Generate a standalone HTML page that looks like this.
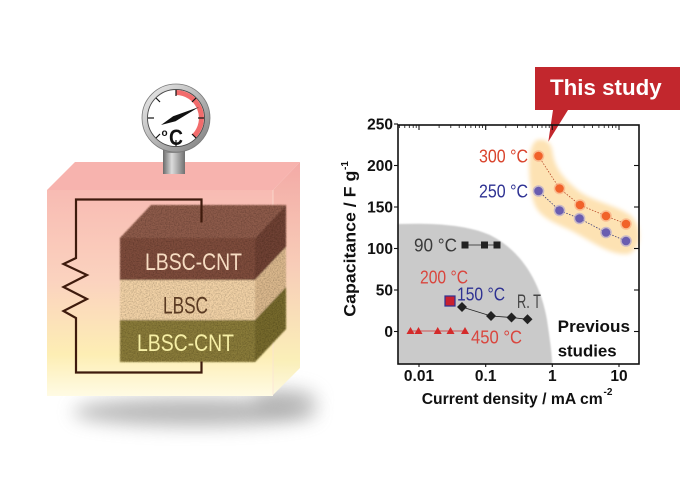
<!DOCTYPE html>
<html>
<head>
<meta charset="utf-8">
<style>
  html,body{margin:0;padding:0;background:#ffffff;}
  svg{display:block;}
</style>
</head>
<body>
<svg width="700" height="486" viewBox="0 0 700 486" xmlns="http://www.w3.org/2000/svg" font-family="'Liberation Sans', Arial, sans-serif">
<defs>
  <linearGradient id="front" x1="0" y1="0" x2="0" y2="1">
    <stop offset="0" stop-color="#f8bbb3"/>
    <stop offset="0.45" stop-color="#fbd3bf"/>
    <stop offset="0.8" stop-color="#fdeeb4"/>
    <stop offset="1" stop-color="#fffbe4"/>
  </linearGradient>
  <linearGradient id="side" x1="0" y1="0" x2="0" y2="1">
    <stop offset="0" stop-color="#f3aaa6"/>
    <stop offset="0.45" stop-color="#f8cdb8"/>
    <stop offset="0.85" stop-color="#faefb8"/>
    <stop offset="1" stop-color="#fdf8e0"/>
  </linearGradient>
  <linearGradient id="ring" x1="0" y1="0" x2="1" y2="1">
    <stop offset="0" stop-color="#f0f0f0"/>
    <stop offset="0.5" stop-color="#b8b8b8"/>
    <stop offset="1" stop-color="#7a7a7a"/>
  </linearGradient>
  <linearGradient id="stem" x1="0" y1="0" x2="1" y2="0">
    <stop offset="0" stop-color="#6a6a6a"/>
    <stop offset="0.4" stop-color="#dcdcdc"/>
    <stop offset="1" stop-color="#707070"/>
  </linearGradient>
  <filter id="blur1" x="-10%" y="-10%" width="120%" height="120%"><feGaussianBlur stdDeviation="0.9"/></filter>
  <filter id="blur2" x="-10%" y="-10%" width="120%" height="120%"><feGaussianBlur stdDeviation="2"/></filter>
  <filter id="shadow" x="-50%" y="-150%" width="200%" height="400%"><feGaussianBlur stdDeviation="9"/></filter>
  <filter id="grain" filterUnits="userSpaceOnUse" x="110" y="195" width="190" height="180">
    <feGaussianBlur in="SourceGraphic" stdDeviation="0.9" result="s"/>
    <feTurbulence type="fractalNoise" baseFrequency="0.75" numOctaves="2" seed="5" result="t"/>
    <feColorMatrix in="t" type="matrix" values="0 0 0 0 0  0 0 0 0 0  0 0 0 0 0  0.9 0 0 0 -0.32" result="a"/>
    <feComposite in="a" in2="s" operator="in" result="b"/>
    <feMerge><feMergeNode in="s"/><feMergeNode in="b"/></feMerge>
  </filter>
</defs>

<!-- ============ LEFT ILLUSTRATION ============ -->
<ellipse cx="195" cy="412" rx="122" ry="14" fill="#888" opacity="0.6" filter="url(#shadow)"/>
<ellipse cx="285" cy="400" rx="32" ry="11" fill="#888" opacity="0.5" filter="url(#shadow)"/>

<polygon points="47,190 273,190 300,162 75,162" fill="#f7b3ae"/>
<rect x="47" y="190" width="226" height="206" fill="url(#front)"/>
<polygon points="273,190 300,162 300,368 273,395" fill="url(#side)"/>
<line x1="273" y1="190" x2="273" y2="395" stroke="#fbe2d6" stroke-width="1" opacity="0.7"/>

<g filter="url(#grain)">
  <polygon points="120,238 255,238 286,205 151,205" fill="#8e5c4b"/>
  <rect x="120" y="238" width="135" height="42" fill="#7f4d3d"/>
  <polygon points="255,238 286,205 286,247 255,280" fill="#6f4335"/>
  <rect x="120" y="280" width="135" height="40" fill="#f3d3a7"/>
  <polygon points="255,280 286,247 286,287 255,320" fill="#dcb98e"/>
  <rect x="120" y="320" width="135" height="42" fill="#8a7c3a"/>
  <polygon points="255,320 286,287 286,329 255,362" fill="#776a2d"/>
</g>

<text x="145" y="270" font-size="24" fill="#f6dcc2" textLength="97" lengthAdjust="spacingAndGlyphs">LBSC-CNT</text>
<text x="163" y="313.5" font-size="24" fill="#5a3a22" textLength="45" lengthAdjust="spacingAndGlyphs">LBSC</text>
<text x="137" y="351" font-size="24" fill="#f6efa6" textLength="97" lengthAdjust="spacingAndGlyphs">LBSC-CNT</text>

<polyline points="201.5,222.5 201.5,199.5 76,199.5 76,258 63.5,264 87,275 63.5,287 87,299 63.5,311 76,318 76,372.5 201.5,372.5 201.5,361.5"
          fill="none" stroke="#3e1b0d" stroke-width="2.2" stroke-linejoin="miter"/>

<!-- gauge -->
<rect x="163" y="148" width="22" height="26" fill="url(#stem)"/>
<rect x="166" y="148" width="16" height="5" fill="#8a8a8a"/>
<circle cx="176" cy="118" r="34" fill="url(#ring)" stroke="#7a7a7a" stroke-width="0.8"/>
<circle cx="176" cy="118" r="28.5" fill="#ffffff" stroke="#4a4a4a" stroke-width="0.9"/>
<path d="M176,92.5 A25.5,25.5 0 0 1 194,136" fill="none" stroke="#f26c6c" stroke-width="5"/>
<g stroke="#111" stroke-width="1.2">
  <line x1="176" y1="90" x2="176" y2="96"/>
  <line x1="196" y1="98" x2="192" y2="102"/>
  <line x1="204" y1="118" x2="198" y2="118"/>
  <line x1="196" y1="138" x2="192" y2="134"/>
  <line x1="176" y1="146" x2="176" y2="140"/>
  <line x1="156" y1="138" x2="160" y2="134"/>
  <line x1="148" y1="118" x2="154" y2="118"/>
  <line x1="156" y1="98" x2="160" y2="102"/>
</g>
<polygon points="161,125 173.1,116.2 199,107 175.5,121.2" fill="#111"/>
<text x="161.5" y="136" font-size="10" font-weight="bold" fill="#111">o</text>
<text x="169" y="145" font-size="22" font-weight="bold" fill="#111" textLength="14" lengthAdjust="spacingAndGlyphs">C</text>

<!-- ============ CHART ============ -->
<path d="M398,364 L398,224 C430,223 465,224 490,235 C520,250 540,280 547,320 C550,340 552,355 552,364 Z" fill="#cacaca" filter="url(#blur1)"/>

<path d="M537,140 C548,138 552,145 553,155 C556,170 565,180 580,192 C595,202 615,205 630,215 C643,226 642,250 628,254 C610,256 590,240 570,230 C548,220 535,215 532,195 C528,175 527,146 537,140 Z"
      fill="#fde2b3" filter="url(#blur2)"/>

<path d="M535,67 L680,67 L680,110 L568,110 L548.3,141.7 L553,110 L535,110 Z" fill="#c2272d"/>
<text x="550" y="95" font-size="22" font-weight="bold" fill="#ffffff" textLength="111.7" lengthAdjust="spacingAndGlyphs">This study</text>

<polyline points="538.5,156 559.5,188.5 580,205 606,216 626,224" fill="none" stroke="#b84a2a" stroke-width="0.8" stroke-dasharray="1.5 1.5"/>
<polyline points="538.5,191 559.5,210.5 579.5,218.5 606,232.5 626,241" fill="none" stroke="#3d3d7a" stroke-width="0.8" stroke-dasharray="1.5 1.5"/>
<g fill="#f9a57c" opacity="0.6">
  <circle cx="538.5" cy="156" r="5.8"/><circle cx="559.5" cy="188.5" r="5.8"/><circle cx="580" cy="205" r="5.8"/><circle cx="606" cy="216" r="5.8"/><circle cx="626" cy="224" r="5.8"/>
</g>
<g fill="#f1622a">
  <circle cx="538.5" cy="156" r="4.3"/><circle cx="559.5" cy="188.5" r="4.3"/><circle cx="580" cy="205" r="4.3"/><circle cx="606" cy="216" r="4.3"/><circle cx="626" cy="224" r="4.3"/>
</g>
<g fill="#a79fd3" opacity="0.6">
  <circle cx="538.5" cy="191" r="5.8"/><circle cx="559.5" cy="210.5" r="5.8"/><circle cx="579.5" cy="218.5" r="5.8"/><circle cx="606" cy="232.5" r="5.8"/><circle cx="626" cy="241" r="5.8"/>
</g>
<g fill="#6a5db0">
  <circle cx="538.5" cy="191" r="4.3"/><circle cx="559.5" cy="210.5" r="4.3"/><circle cx="579.5" cy="218.5" r="4.3"/><circle cx="606" cy="232.5" r="4.3"/><circle cx="626" cy="241" r="4.3"/>
</g>
<text x="479" y="162.5" font-size="18" fill="#d9432c" textLength="49" lengthAdjust="spacingAndGlyphs">300 °C</text>
<text x="479" y="197.5" font-size="18" fill="#2e3192" textLength="49" lengthAdjust="spacingAndGlyphs">250 °C</text>

<line x1="465" y1="245" x2="497" y2="245" stroke="#222" stroke-width="0.8"/>
<g fill="#222">
  <rect x="461.5" y="241.5" width="7" height="7"/><rect x="481" y="241.5" width="7" height="7"/><rect x="493.5" y="241.5" width="7" height="7"/>
</g>
<text x="414" y="251.5" font-size="18" fill="#3a3a3a" textLength="43" lengthAdjust="spacingAndGlyphs">90 °C</text>

<text x="420" y="283.5" font-size="18" fill="#d9463e" textLength="48" lengthAdjust="spacingAndGlyphs">200 °C</text>
<rect x="445" y="296" width="10" height="10" fill="#c8202f" stroke="#2e3192" stroke-width="1.2"/>
<text x="457" y="300.5" font-size="18" fill="#2e3192" textLength="48" lengthAdjust="spacingAndGlyphs">150 °C</text>
<text x="517" y="308" font-size="19" fill="#444444" textLength="24" lengthAdjust="spacingAndGlyphs">R. T</text>

<polyline points="462,307 491,316 511.5,317.5 527.5,319.3" fill="none" stroke="#222" stroke-width="0.8"/>
<g fill="#222">
  <polygon points="462,302 467,307 462,312 457,307"/>
  <polygon points="491,311 496,316 491,321 486,316"/>
  <polygon points="511.5,312.5 516.5,317.5 511.5,322.5 506.5,317.5"/>
  <polygon points="527.5,314.3 532.5,319.3 527.5,324.3 522.5,319.3"/>
</g>

<line x1="410.5" y1="331" x2="465" y2="331" stroke="#d42a2a" stroke-width="0.8"/>
<g fill="#d42a2a">
  <polygon points="410.5,327 414.5,334 406.5,334"/>
  <polygon points="418.5,327 422.5,334 414.5,334"/>
  <polygon points="437.7,327 441.7,334 433.7,334"/>
  <polygon points="450.5,327 454.5,334 446.5,334"/>
  <polygon points="465,327 469,334 461,334"/>
</g>
<text x="471" y="343.5" font-size="18" fill="#d9463e" textLength="51" lengthAdjust="spacingAndGlyphs">450 °C</text>

<text x="557.7" y="332" font-size="17" font-weight="bold" fill="#111" textLength="72.3" lengthAdjust="spacingAndGlyphs">Previous</text>
<text x="557.7" y="356.5" font-size="17" font-weight="bold" fill="#111" textLength="59" lengthAdjust="spacingAndGlyphs">studies</text>

<rect x="398" y="125" width="241" height="239" fill="none" stroke="#111" stroke-width="1.6"/>

<g stroke="#111" stroke-width="1.1">
  <line x1="394" y1="124" x2="398" y2="124"/>
  <line x1="394" y1="165.5" x2="398" y2="165.5"/>
  <line x1="394" y1="207" x2="398" y2="207"/>
  <line x1="394" y1="248.5" x2="398" y2="248.5"/>
  <line x1="394" y1="290" x2="398" y2="290"/>
  <line x1="394" y1="331.5" x2="398" y2="331.5"/>
  <line x1="634" y1="165.5" x2="639" y2="165.5"/>
  <line x1="634" y1="207" x2="639" y2="207"/>
  <line x1="634" y1="248.5" x2="639" y2="248.5"/>
  <line x1="634" y1="290" x2="639" y2="290"/>
  <line x1="634" y1="331.5" x2="639" y2="331.5"/>
  <line x1="419" y1="364" x2="419" y2="367"/>
  <line x1="485.7" y1="364" x2="485.7" y2="367"/>
  <line x1="552.3" y1="364" x2="552.3" y2="367"/>
  <line x1="619" y1="364" x2="619" y2="367"/>
  <line x1="419" y1="125" x2="419" y2="130"/>
  <line x1="485.7" y1="125" x2="485.7" y2="130"/>
  <line x1="552.3" y1="125" x2="552.3" y2="130"/>
  <line x1="619" y1="125" x2="619" y2="130"/>
</g>
<g stroke="#111" stroke-width="0.8">
  <line x1="399.5" y1="125" x2="399.5" y2="128"/>
  <line x1="404.8" y1="125" x2="404.8" y2="128"/>
  <line x1="409.3" y1="125" x2="409.3" y2="128"/>
  <line x1="413.2" y1="125" x2="413.2" y2="128"/>
  <line x1="416.2" y1="125" x2="416.2" y2="128"/>
  <line x1="439.1" y1="125" x2="439.1" y2="128"/>
  <line x1="450.8" y1="125" x2="450.8" y2="128"/>
  <line x1="459.2" y1="125" x2="459.2" y2="128"/>
  <line x1="465.6" y1="125" x2="465.6" y2="128"/>
  <line x1="470.9" y1="125" x2="470.9" y2="128"/>
  <line x1="475.4" y1="125" x2="475.4" y2="128"/>
  <line x1="479.3" y1="125" x2="479.3" y2="128"/>
  <line x1="482.6" y1="125" x2="482.6" y2="128"/>
  <line x1="505.8" y1="125" x2="505.8" y2="128"/>
  <line x1="517.5" y1="125" x2="517.5" y2="128"/>
  <line x1="525.8" y1="125" x2="525.8" y2="128"/>
  <line x1="532.2" y1="125" x2="532.2" y2="128"/>
  <line x1="537.5" y1="125" x2="537.5" y2="128"/>
  <line x1="542" y1="125" x2="542" y2="128"/>
  <line x1="545.9" y1="125" x2="545.9" y2="128"/>
  <line x1="549.2" y1="125" x2="549.2" y2="128"/>
  <line x1="572.4" y1="125" x2="572.4" y2="128"/>
  <line x1="584.1" y1="125" x2="584.1" y2="128"/>
  <line x1="592.5" y1="125" x2="592.5" y2="128"/>
  <line x1="598.9" y1="125" x2="598.9" y2="128"/>
  <line x1="604.2" y1="125" x2="604.2" y2="128"/>
  <line x1="608.7" y1="125" x2="608.7" y2="128"/>
  <line x1="612.6" y1="125" x2="612.6" y2="128"/>
  <line x1="615.9" y1="125" x2="615.9" y2="128"/>
</g>

<g font-size="15.5" font-weight="bold" fill="#111" text-anchor="end">
  <text x="393" y="129.5">250</text>
  <text x="393" y="171">200</text>
  <text x="393" y="212.5">150</text>
  <text x="393" y="254">100</text>
  <text x="393" y="295.5">50</text>
  <text x="393" y="337">0</text>
</g>
<g font-size="15.5" font-weight="bold" fill="#111" text-anchor="middle">
  <text x="419" y="381">0.01</text>
  <text x="485.7" y="381">0.1</text>
  <text x="552.3" y="381">1</text>
  <text x="619" y="381">10</text>
</g>

<text x="421.7" y="404" font-size="16" font-weight="bold" fill="#111" textLength="181" lengthAdjust="spacingAndGlyphs">Current density / mA cm</text>
<text x="603.5" y="395" font-size="10" font-weight="bold" fill="#111">-2</text>

<text transform="translate(355.5,316.7) rotate(-90)" font-size="17" font-weight="bold" fill="#111" textLength="146" lengthAdjust="spacingAndGlyphs">Capacitance / F g</text>
<text transform="translate(348,170) rotate(-90)" font-size="10" font-weight="bold" fill="#111">-1</text>
</svg>
</body>
</html>
